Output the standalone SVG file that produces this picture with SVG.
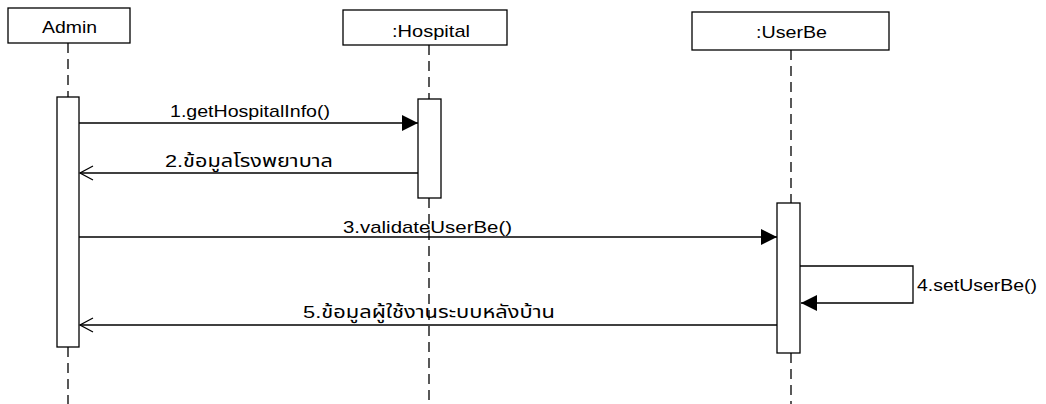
<svg xmlns="http://www.w3.org/2000/svg" width="1046" height="404" viewBox="0 0 1046 404">
<style>
.box{fill:#fff;stroke:#000;stroke-width:1.3}
.life{stroke:#000;stroke-width:1.3;stroke-dasharray:10,6;fill:none}
.act{fill:#fff;stroke:#000;stroke-width:1.3}
.msg{stroke:#000;stroke-width:1.3;fill:none}
text{font-family:"Liberation Sans","Noto Sans Thai","Noto Sans","DejaVu Sans",sans-serif;font-size:17px;fill:#000}
</style>
<defs>
<marker id="filled" markerWidth="17" markerHeight="17" refX="16" refY="8" orient="auto" markerUnits="userSpaceOnUse">
<path d="M0,0 L16,8 L0,16 Z" fill="#000"/>
</marker>
<marker id="open" markerWidth="16" markerHeight="18" refX="14" refY="8" orient="auto" markerUnits="userSpaceOnUse">
<path d="M1,1 L14,8 L1,15" fill="none" stroke="#000" stroke-width="1.3"/>
</marker>
</defs>
<g id="lifelines">
<line class="life" x1="68" y1="43" x2="68" y2="97"/>
<line class="life" x1="68" y1="347" x2="68" y2="404"/>
<line class="life" x1="429" y1="45" x2="429" y2="99"/>
<line class="life" x1="429" y1="198" x2="429" y2="404"/>
<line class="life" x1="791" y1="50" x2="791" y2="203"/>
<line class="life" x1="791" y1="353" x2="791" y2="404"/>
</g>
<g id="admin">
<rect class="box" x="8" y="8" width="122" height="35"/>
<text x="42" y="33" textLength="55" lengthAdjust="spacingAndGlyphs">Admin</text>
<rect class="act" x="57" y="97" width="22" height="250"/>
</g>
<g id="hospital">
<rect class="box" x="343" y="10" width="164" height="35"/>
<text x="392" y="37" textLength="78" lengthAdjust="spacingAndGlyphs">:Hospital</text>
<rect class="act" x="418" y="99" width="23" height="99"/>
</g>
<g id="userbe">
<rect class="box" x="692" y="12" width="197" height="38"/>
<text x="756" y="38" textLength="71" lengthAdjust="spacingAndGlyphs">:UserBe</text>
<rect class="act" x="777" y="203" width="23" height="150"/>
</g>
<g id="connectors">
<line class="msg" x1="79" y1="123" x2="418" y2="123" marker-end="url(#filled)"/>
<line class="msg" x1="418" y1="173" x2="80" y2="173" marker-end="url(#open)"/>
<line class="msg" x1="79" y1="237" x2="777" y2="237" marker-end="url(#filled)"/>
<polyline class="msg" points="800,266 913,266 913,303 801,303" marker-end="url(#filled)"/>
<line class="msg" x1="777" y1="325" x2="80" y2="325" marker-end="url(#open)"/>
</g>
<g id="labels">
<text x="170" y="117" textLength="160" lengthAdjust="spacingAndGlyphs">1.getHospitalInfo()</text>
<text x="165" y="167" textLength="168" lengthAdjust="spacingAndGlyphs">2.ข้อมูลโรงพยาบาล</text>
<text x="343" y="233" textLength="169" lengthAdjust="spacingAndGlyphs">3.validateUserBe()</text>
<text x="917" y="291" textLength="120" lengthAdjust="spacingAndGlyphs">4.setUserBe()</text>
<text x="303" y="318" textLength="252" lengthAdjust="spacingAndGlyphs">5.ข้อมูลผู้ใช้งานระบบหลังบ้าน</text>
</g>
</svg>
